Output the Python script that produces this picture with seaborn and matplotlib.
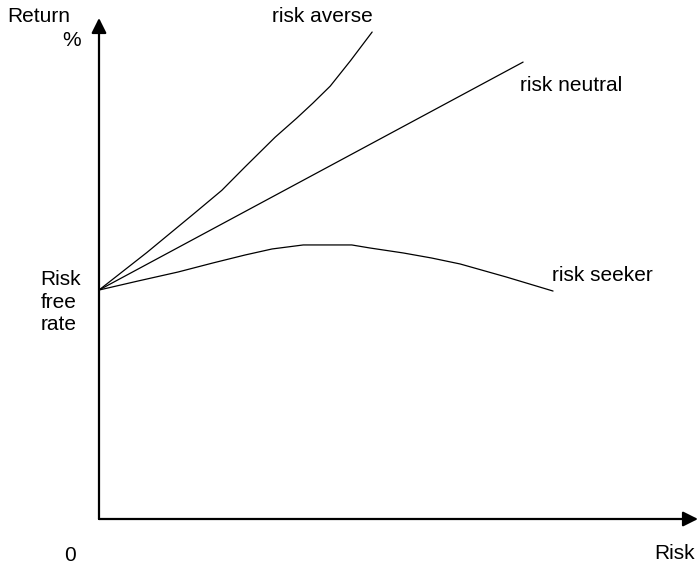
import matplotlib
matplotlib.use("Agg")
import matplotlib.pyplot as plt
import seaborn as sns
import pandas as pd

sns.set_theme(style="white")
plt.rcParams["font.family"] = ["Liberation Sans", "DejaVu Sans"]

# Risk / return profiles (risk and return in arbitrary units, 0-100)
averse_risk = [0, 8.0, 16.0, 20.5, 24.4, 29.4, 33.0, 35.7, 38.6, 42.0, 45.6]
averse_return = [45.7, 53.2, 61.1, 65.6, 70.3, 76.2, 80.0, 83.0, 86.4, 91.5, 97.2]

neutral_risk = [0, 70.8]
neutral_return = [45.7, 91.2]

seeker_risk = [0, 6.5, 13.2, 19.0, 24.4, 28.9, 34.1, 42.2, 45.2, 50.8, 55.5, 60.3, 68.0, 75.8]
seeker_return = [45.7, 47.5, 49.3, 51.1, 52.7, 53.9, 54.7, 54.7, 54.1, 53.1, 52.1, 50.9, 48.3, 45.5]

W, H = 698, 565
fig = plt.figure(figsize=(W / 100, H / 100), dpi=100)
ax = fig.add_axes([99 / W, (H - 519) / H, (W - 99) / W, (519 - 18) / H])
ax.set_xlim(0, 100)
ax.set_ylim(0, 100)
ax.set_axis_off()

profiles = [
    (averse_risk, averse_return),
    (neutral_risk, neutral_return),
    (seeker_risk, seeker_return),
]
for rx, ry in profiles:
    df = pd.DataFrame({"risk": rx, "ret": ry})
    sns.lineplot(data=df, x="risk", y="ret", ax=ax, color="black",
                 linewidth=0.9, estimator=None, sort=False)

# Axes drawn as arrows
arrow = dict(arrowstyle="-|>,head_length=0.9,head_width=0.45",
             color="black", lw=1.6, shrinkA=0, shrinkB=0, mutation_scale=10)
ax.annotate("", xy=(0, 100), xytext=(0, 0), xycoords="data",
            arrowprops=arrow, annotation_clip=False)
ax.annotate("", xy=(100, 0), xytext=(0, 0), xycoords="data",
            arrowprops=arrow, annotation_clip=False)

fs = 15
txt = dict(fontsize=fs, color="black", clip_on=False)
ax.text(-15.4, 100.2, "Return", ha="left", va="center", **txt)
ax.text(-4.5, 95.6, "%", ha="center", va="center", **txt)
ax.text(-9.8, 43.3, "Risk\nfree\nrate", ha="left", va="center",
        linespacing=1.25, **txt)
ax.text(-4.8, -7.2, "0", ha="center", va="center", **txt)
ax.text(99.4, -6.8, "Risk", ha="right", va="center", **txt)

ax.text(28.9, 100.2, "risk averse", ha="left", va="center", **txt)
ax.text(70.3, 86.6, "risk neutral", ha="left", va="center", **txt)
ax.text(75.6, 48.7, "risk seeker", ha="left", va="center", **txt)

fig.savefig("out.png", dpi=100)
